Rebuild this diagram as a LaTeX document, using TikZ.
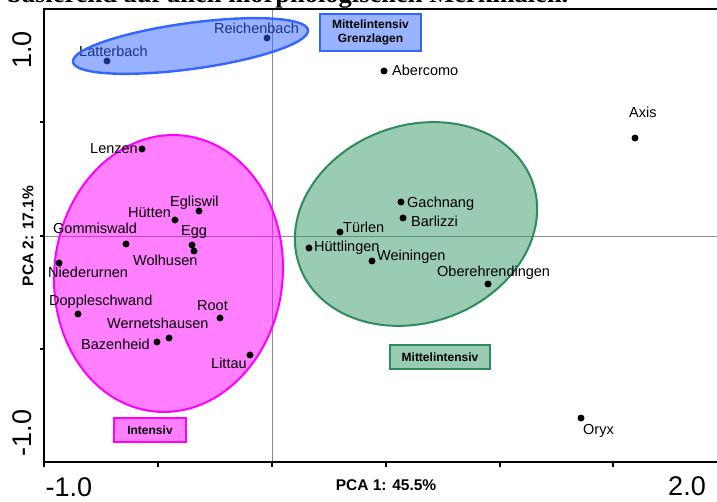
\documentclass[tikz,border=0pt]{standalone}
\usepackage{fontspec}
\setmainfont{Liberation Sans}
\newfontfamily\titlefont{Liberation Serif}
\definecolor{gblue}{HTML}{3366FF}
\definecolor{gblueF}{HTML}{99B3FF}
\definecolor{gpink}{HTML}{FF00FF}
\definecolor{gpinkF}{HTML}{FF80FF}
\definecolor{ggreen}{HTML}{339966}
\definecolor{ggreenD}{HTML}{2E8B5A}
\definecolor{ggreenF}{HTML}{99CCB3}
\definecolor{gridgrey}{HTML}{8C8C8C}
\tikzset{
  dot/.style={circle, fill=black, inner sep=0pt, minimum size=7pt},
  lbl/.style={anchor=base west, inner sep=0pt, font=\fontsize{14.5}{16}\selectfont},
  boxlbl/.style={draw, line width=2.2pt, inner sep=0pt, align=center, font=\bfseries\fontsize{12}{14}\selectfont},
  axisline/.style={line width=2.8pt, line cap=rect},
  tickline/.style={line width=1.4pt},
  gridline/.style={gridgrey, line width=0.9pt},
  ticklbl/.style={inner sep=0pt, font=\fontsize{27}{30}\selectfont},
  axtitle/.style={inner sep=0pt, font=\bfseries\fontsize{15.5}{17}\selectfont}
}
\begin{document}
\begin{tikzpicture}[x=1pt,y=-1pt]
\useasboundingbox (0,0) rectangle (717,502);
% title (cropped)
\node[anchor=base west, inner sep=0pt, font=\titlefont\bfseries\fontsize{26.5}{30}\selectfont] (title) at (7,3) {basierend auf allen morphologischen Merkmalen.};
% grid lines
\draw[gridline] (272,9) -- (272,462);
\draw[gridline] (44,236) -- (717,236);
% pink ellipse
\begin{scope}[shift={(168.5,273.5)}, rotate=-6]
  \draw[gpink, line width=2pt, fill=gpink, fill opacity=0.5] (0,0) ellipse [x radius=114.2pt, y radius=138.7pt];
\end{scope}
% green ellipse
\begin{scope}[shift={(416,224)}, rotate=20]
  \draw[ggreenD, line width=2pt, fill=ggreen, fill opacity=0.5] (0,0) ellipse [x radius=123.8pt, y radius=98.6pt];
\end{scope}
% axes
\draw[axisline] (717,9) -- (44,9) -- (44,462) -- (717,462);
\foreach \yy in {122,236,349} \draw[tickline] (40,\yy) -- (44,\yy);
\foreach \xx in {44,158,272,386,500,613} \draw[tickline] (\xx,462) -- (\xx,467);
\node[ticklbl] (xmin) at (69,487) {-1.0};
\node[ticklbl] (xmax) at (687,486) {2.0};
\node[ticklbl, rotate=90] (ymax) at (22,50) {1.0};
\node[ticklbl, rotate=90] (ymin) at (22,433) {-1.0};
\node[axtitle] (xtitle) at (386,485) {PCA 1: 45.5\%};
\node[axtitle, rotate=90] (ytitle) at (28,236) {PCA 2: 17.1\%};
% points and labels
\node[dot] (p-latterbach) at (107,61) {};
\node[lbl] (l-latterbach) at (79,57) {Latterbach};
\node[dot] (p-reichenbach) at (267,38) {};
\node[lbl] (l-reichenbach) at (214,34) {Reichenbach};
\node[dot] (p-lenzen) at (142,149) {};
\node[lbl] (l-lenzen) at (90,154) {Lenzen};
\node[dot] (p-egliswil) at (199,211) {};
\node[lbl] (l-egliswil) at (170,207) {Egliswil};
\node[dot] (p-huetten) at (175,220) {};
\node[lbl] (l-huetten) at (128,218) {Hütten};
\node[dot] (p-egg) at (192,245) {};
\node[lbl] (l-egg) at (181,236) {Egg};
\node[dot] (p-wolhusen) at (194,251) {};
\node[lbl] (l-wolhusen) at (133,266) {Wolhusen};
\node[dot] (p-gommiswald) at (126,244) {};
\node[lbl] (l-gommiswald) at (53,234) {Gommiswald};
\node[dot] (p-niederurnen) at (59,263) {};
\node[lbl] (l-niederurnen) at (48,278) {Niederurnen};
\node[dot] (p-doppleschwand) at (78,314) {};
\node[lbl] (l-doppleschwand) at (49,306) {Doppleschwand};
\node[dot] (p-root) at (220,318) {};
\node[lbl] (l-root) at (197,311) {Root};
\node[dot] (p-wernetshausen) at (169,338) {};
\node[lbl] (l-wernetshausen) at (107,329) {Wernetshausen};
\node[dot] (p-bazenheid) at (157,342) {};
\node[lbl] (l-bazenheid) at (81,349) {Bazenheid};
\node[dot] (p-littau) at (250,355) {};
\node[lbl] (l-littau) at (211,368) {Littau};
\node[dot] (p-gachnang) at (401,202) {};
\node[lbl] (l-gachnang) at (407,208) {Gachnang};
\node[dot] (p-barlizzi) at (403,218) {};
\node[lbl] (l-barlizzi) at (411,227) {Barlizzi};
\node[dot] (p-tuerlen) at (340,232) {};
\node[lbl] (l-tuerlen) at (343,233) {Türlen};
\node[dot] (p-huettlingen) at (309,248) {};
\node[lbl] (l-huettlingen) at (314,252) {Hüttlingen};
\node[dot] (p-weiningen) at (372,261) {};
\node[lbl] (l-weiningen) at (377,261) {Weiningen};
\node[dot] (p-oberehrendingen) at (488,284) {};
\node[lbl] (l-oberehrendingen) at (437,277) {Oberehrendingen};
\node[dot] (p-abercomo) at (384,71) {};
\node[lbl] (l-abercomo) at (392,76) {Abercomo};
\node[dot] (p-axis) at (635,138) {};
\node[lbl] (l-axis) at (629,118) {Axis};
\node[dot] (p-oryx) at (581,418) {};
\node[lbl] (l-oryx) at (583,434) {Oryx};
% blue ellipse (drawn over its labels)
\begin{scope}[shift={(190.5,46)}, rotate=7.75]
  \draw[gblue, line width=2.4pt, fill=gblue, fill opacity=0.5] (0,0) ellipse [x radius=118.6pt, y radius=23pt];
\end{scope}
% group boxes
\node[boxlbl, draw=gblue, fill=gblueF, minimum width=101pt, minimum height=37pt] (b-grenz) at (370.5,32.5) {Mittelintensiv\\[0pt]Grenzlagen};
\node[boxlbl, draw=gpink, fill=gpinkF, minimum width=72pt, minimum height=24pt] (b-intensiv) at (150,430) {Intensiv};
\node[boxlbl, draw=ggreenD, fill=ggreenF, minimum width=100pt, minimum height=24pt] (b-mittel) at (440,357) {Mittelintensiv};
\end{tikzpicture}
\end{document}
